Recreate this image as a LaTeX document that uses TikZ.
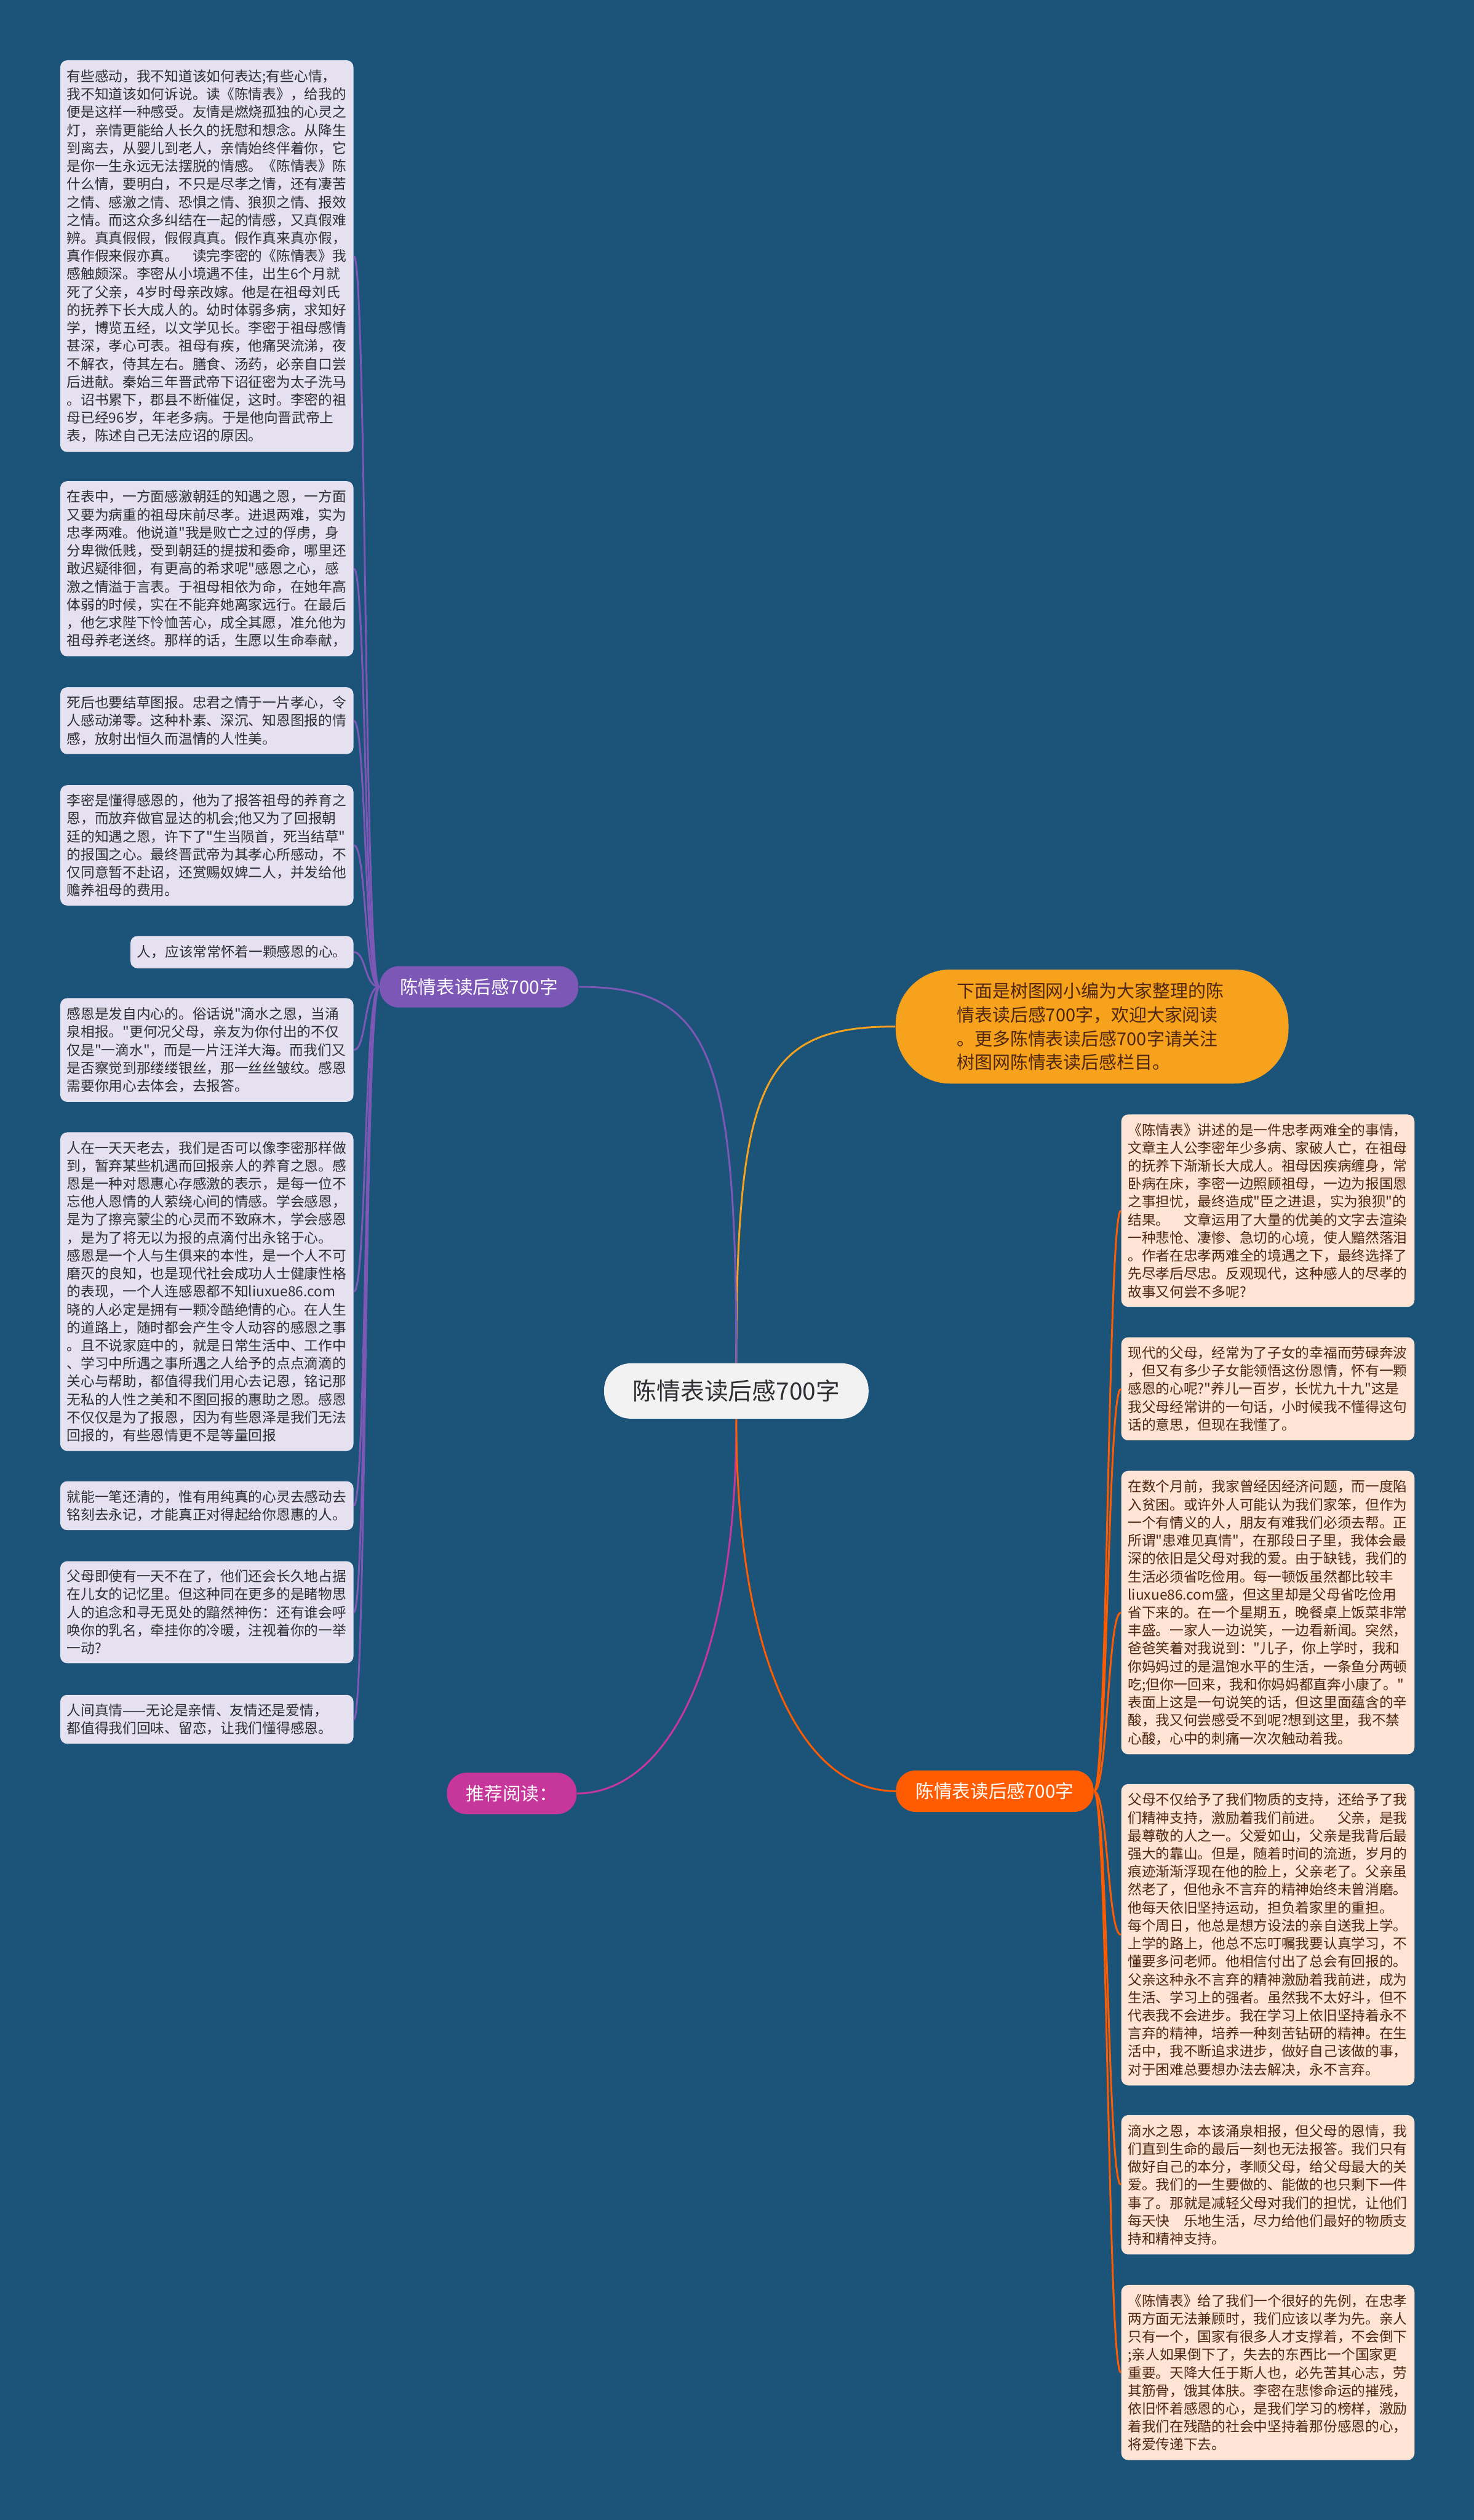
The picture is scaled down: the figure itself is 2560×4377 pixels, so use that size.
\documentclass[tikz,border=0pt]{standalone}
\usepackage{fontspec}
\setmainfont{Noto Sans CJK SC}[Ligatures=TeXOff]
\definecolor{bgblue}{HTML}{1B5478}
\definecolor{lilac}{HTML}{E5E1F1}
\definecolor{peach}{HTML}{FDE4D5}
\definecolor{mist}{HTML}{F2F2F2}
\definecolor{grape}{HTML}{7D57B5}
\definecolor{berry}{HTML}{C7369B}
\definecolor{blaze}{HTML}{FF5B00}
\definecolor{amber}{HTML}{F7A21C}
\definecolor{inkgray}{HTML}{2E2E33}
\definecolor{inkbrown}{HTML}{4E2611}
\usepackage{tikz}
\usetikzlibrary{calc, positioning}

\tikzset{
  leftbox/.style={fill=lilac, text=inkgray, rounded corners=0.12cm, anchor=north west,
    text width=4.86cm, inner xsep=0.115cm, inner ysep=0.1cm, align=left,
    font=\fontsize{6.9pt}{8.88pt}\selectfont},
  rightbox/.style={leftbox, fill=peach, text=inkbrown},
  pill/.style={rounded corners=0.34cm, minimum height=0.72cm, text=white,
    font=\fontsize{9pt}{11pt}\selectfont},
  twig/.style={line width=0.9pt}
}

\begin{document}
\begin{tikzpicture}[x=0.01cm, y=-0.01cm]
  \useasboundingbox[fill=bgblue] (0,0) rectangle (2560,4377);

  \node[fill=mist, text=inkgray, rounded corners=0.46cm, minimum width=4.59cm, minimum height=0.96cm,
    font=\fontsize{11.8pt}{14pt}\selectfont] (hub) at (1279,2416) {陈情表读后感700字};
  \node[pill, fill=grape, minimum width=3.45cm] (grapehead) at (832,1714) {陈情表读后感700字};
  \node[pill, fill=berry, minimum width=2.25cm] (tuijian) at (889,3115) {推荐阅读：};
  \node[pill, fill=blaze, minimum width=3.43cm] (blazehead) at (1728,3111) {陈情表读后感700字};
  \node[fill=amber, text=inkbrown, rounded corners=0.95cm, text width=4.70cm, inner xsep=1.06cm,
    minimum height=1.98cm, align=left, font=\fontsize{8.8pt}{11.8pt}\selectfont] (intro) at (1897,1783) {%
    下面是树图网小编为大家整理的陈\\
    情表读后感700字，欢迎大家阅读\\
    。更多陈情表读后感700字请关注\\
    树图网陈情表读后感栏目。};

  \node[leftbox, minimum height=6.80cm] (l1) at (104,104) {%
    有些感动，我不知道该如何表达;有些心情，\\
    我不知道该如何诉说。读《陈情表》，给我的\\
    便是这样一种感受。友情是燃烧孤独的心灵之\\
    灯，亲情更能给人长久的抚慰和想念。从降生\\
    到离去，从婴儿到老人，亲情始终伴着你，它\\
    是你一生永远无法摆脱的情感。《陈情表》陈\\
    什么情，要明白，不只是尽孝之情，还有凄苦\\
    之情、感激之情、恐惧之情、狼狈之情、报效\\
    之情。而这众多纠结在一起的情感，又真假难\\
    辨。真真假假，假假真真。假作真来真亦假，\\
    真作假来假亦真。　读完李密的《陈情表》我\\
    感触颇深。李密从小境遇不佳，出生6个月就\\
    死了父亲，4岁时母亲改嫁。他是在祖母刘氏\\
    的抚养下长大成人的。幼时体弱多病，求知好\\
    学，博览五经，以文学见长。李密于祖母感情\\
    甚深，孝心可表。祖母有疾，他痛哭流涕，夜\\
    不解衣，侍其左右。膳食、汤药，必亲自口尝\\
    后进献。秦始三年晋武帝下诏征密为太子洗马\\
    。诏书累下，郡县不断催促，这时。李密的祖\\
    母已经96岁，年老多病。于是他向晋武帝上\\
    表，陈述自己无法应诏的原因。};
  \node[leftbox, minimum height=3.04cm] (l2) at (104,835) {%
    在表中，一方面感激朝廷的知遇之恩，一方面\\
    又要为病重的祖母床前尽孝。进退两难，实为\\
    忠孝两难。他说道"我是败亡之过的俘虏，身\\
    分卑微低贱，受到朝廷的提拔和委命，哪里还\\
    敢迟疑徘徊，有更高的希求呢"感恩之心，感\\
    激之情溢于言表。于祖母相依为命，在她年高\\
    体弱的时候，实在不能弃她离家远行。在最后\\
    ，他乞求陛下怜恤苦心，成全其愿，准允他为\\
    祖母养老送终。那样的话，生愿以生命奉献，};
  \node[leftbox, minimum height=1.16cm] (l3) at (104,1193) {%
    死后也要结草图报。忠君之情于一片孝心，令\\
    人感动涕零。这种朴素、深沉、知恩图报的情\\
    感，放射出恒久而温情的人性美。};
  \node[leftbox, minimum height=2.09cm] (l4) at (104,1363) {%
    李密是懂得感恩的，他为了报答祖母的养育之\\
    恩，而放弃做官显达的机会;他又为了回报朝\\
    廷的知遇之恩，许下了"生当陨首，死当结草"\\
    的报国之心。最终晋武帝为其孝心所感动，不\\
    仅同意暂不赴诏，还赏赐奴婢二人，并发给他\\
    赡养祖母的费用。};
  \node[leftbox, text width=3.64cm, minimum height=0.56cm] (l5) at (226,1625) {%
    人，应该常常怀着一颗感恩的心。};
  \node[leftbox, minimum height=1.80cm] (l6) at (104,1733) {%
    感恩是发自内心的。俗话说"滴水之恩，当涌\\
    泉相报。"更何况父母，亲友为你付出的不仅\\
    仅是"一滴水"，而是一片汪洋大海。而我们又\\
    是否察觉到那缕缕银丝，那一丝丝皱纹。感恩\\
    需要你用心去体会，去报答。};
  \node[leftbox, minimum height=5.53cm] (l7) at (104,1966) {%
    人在一天天老去，我们是否可以像李密那样做\\
    到，暂弃某些机遇而回报亲人的养育之恩。感\\
    恩是一种对恩惠心存感激的表示，是每一位不\\
    忘他人恩情的人萦绕心间的情感。学会感恩，\\
    是为了擦亮蒙尘的心灵而不致麻木，学会感恩\\
    ，是为了将无以为报的点滴付出永铭于心。\\
    感恩是一个人与生俱来的本性，是一个人不可\\
    磨灭的良知，也是现代社会成功人士健康性格\\
    的表现，一个人连感恩都不知liuxue86.com\\
    晓的人必定是拥有一颗冷酷绝情的心。在人生\\
    的道路上，随时都会产生令人动容的感恩之事\\
    。且不说家庭中的，就是日常生活中、工作中\\
    、学习中所遇之事所遇之人给予的点点滴滴的\\
    关心与帮助，都值得我们用心去记恩，铭记那\\
    无私的人性之美和不图回报的惠助之恩。感恩\\
    不仅仅是为了报恩，因为有些恩泽是我们无法\\
    回报的，有些恩情更不是等量回报};
  \node[leftbox, minimum height=0.85cm] (l8) at (104,2572) {%
    就能一笔还清的，惟有用纯真的心灵去感动去\\
    铭刻去永记，才能真正对得起给你恩惠的人。};
  \node[leftbox, minimum height=1.77cm] (l9) at (104,2711) {%
    父母即使有一天不在了，他们还会长久地占据\\
    在儿女的记忆里。但这种同在更多的是睹物思\\
    人的追念和寻无觅处的黯然神伤：还有谁会呼\\
    唤你的乳名，牵挂你的冷暖，注视着你的一举\\
    一动?};
  \node[leftbox, minimum height=0.85cm] (l10) at (104,2943) {%
    人间真情——无论是亲情、友情还是爱情，\\
    都值得我们回味、留恋，让我们懂得感恩。};

  \node[rightbox, minimum height=3.34cm] (r1) at (1947,1935) {%
    《陈情表》讲述的是一件忠孝两难全的事情，\\
    文章主人公李密年少多病、家破人亡，在祖母\\
    的抚养下渐渐长大成人。祖母因疾病缠身，常\\
    卧病在床，李密一边照顾祖母，一边为报国恩\\
    之事担忧，最终造成"臣之进退，实为狼狈"的\\
    结果。　文章运用了大量的优美的文字去渲染\\
    一种悲怆、凄惨、急切的心境，使人黯然落泪\\
    。作者在忠孝两难全的境遇之下，最终选择了\\
    先尽孝后尽忠。反观现代，这种感人的尽孝的\\
    故事又何尝不多呢?};
  \node[rightbox, minimum height=1.79cm] (r2) at (1947,2322) {%
    现代的父母，经常为了子女的幸福而劳碌奔波\\
    ，但又有多少子女能领悟这份恩情，怀有一颗\\
    感恩的心呢?"养儿一百岁，长忧九十九"这是\\
    我父母经常讲的一句话，小时候我不懂得这句\\
    话的意思，但现在我懂了。};
  \node[rightbox, minimum height=4.92cm] (r3) at (1947,2554) {%
    在数个月前，我家曾经因经济问题，而一度陷\\
    入贫困。或许外人可能认为我们家笨，但作为\\
    一个有情义的人，朋友有难我们必须去帮。正\\
    所谓"患难见真情"，在那段日子里，我体会最\\
    深的依旧是父母对我的爱。由于缺钱，我们的\\
    生活必须省吃俭用。每一顿饭虽然都比较丰\\
    liuxue86.com盛，但这里却是父母省吃俭用\\
    省下来的。在一个星期五，晚餐桌上饭菜非常\\
    丰盛。一家人一边说笑，一边看新闻。突然，\\
    爸爸笑着对我说到："儿子，你上学时，我和\\
    你妈妈过的是温饱水平的生活，一条鱼分两顿\\
    吃;但你一回来，我和你妈妈都直奔小康了。"\\
    表面上这是一句说笑的话，但这里面蕴含的辛\\
    酸，我又何尝感受不到呢?想到这里，我不禁\\
    心酸，心中的刺痛一次次触动着我。};
  \node[rightbox, minimum height=5.23cm] (r4) at (1947,3098) {%
    父母不仅给予了我们物质的支持，还给予了我\\
    们精神支持，激励着我们前进。　父亲，是我\\
    最尊敬的人之一。父爱如山，父亲是我背后最\\
    强大的靠山。但是，随着时间的流逝，岁月的\\
    痕迹渐渐浮现在他的脸上，父亲老了。父亲虽\\
    然老了，但他永不言弃的精神始终未曾消磨。\\
    他每天依旧坚持运动，担负着家里的重担。\\
    每个周日，他总是想方设法的亲自送我上学。\\
    上学的路上，他总不忘叮嘱我要认真学习，不\\
    懂要多问老师。他相信付出了总会有回报的。\\
    父亲这种永不言弃的精神激励着我前进，成为\\
    生活、学习上的强者。虽然我不太好斗，但不\\
    代表我不会进步。我在学习上依旧坚持着永不\\
    言弃的精神，培养一种刻苦钻研的精神。在生\\
    活中，我不断追求进步，做好自己该做的事，\\
    对于困难总要想办法去解决，永不言弃。};
  \node[rightbox, minimum height=2.42cm] (r5) at (1947,3673) {%
    滴水之恩，本该涌泉相报，但父母的恩情，我\\
    们直到生命的最后一刻也无法报答。我们只有\\
    做好自己的本分，孝顺父母，给父母最大的关\\
    爱。我们的一生要做的、能做的也只剩下一件\\
    事了。那就是减轻父母对我们的担忧，让他们\\
    每天快　乐地生活，尽力给他们最好的物质支\\
    持和精神支持。};
  \node[rightbox, minimum height=3.04cm] (r6) at (1947,3968) {%
    《陈情表》给了我们一个很好的先例，在忠孝\\
    两方面无法兼顾时，我们应该以孝为先。亲人\\
    只有一个，国家有很多人才支撑着，不会倒下\\
    ;亲人如果倒下了，失去的东西比一个国家更\\
    重要。天降大任于斯人也，必先苦其心志，劳\\
    其筋骨，饿其体肤。李密在悲惨命运的摧残，\\
    依旧怀着感恩的心，是我们学习的榜样，激励\\
    着我们在残酷的社会中坚持着那份感恩的心，\\
    将爱传递下去。};

  \draw[twig, amber] (hub.north) .. controls +(0,-490) and +(-230,0) .. (intro.west);
  \draw[twig, grape] (hub.north) .. controls +(0,-540) and +(230,0) .. (grapehead.east);
  \draw[twig, berry] (hub.south) .. controls +(0,440) and +(150,0) .. (tuijian.east);
  \draw[twig, blaze] (hub.south) .. controls +(0,400) and +(-170,0) .. (blazehead.west);
  \foreach \n in {1,...,10}
    \draw[twig, grape] (grapehead.west) .. controls +(-26,0) and +(22,0) .. (l\n.east);
  \foreach \n in {1,...,6}
    \draw[twig, blaze] (blazehead.east) .. controls +(24,0) and +(-23,0) .. (r\n.west);
\end{tikzpicture}
\end{document}
